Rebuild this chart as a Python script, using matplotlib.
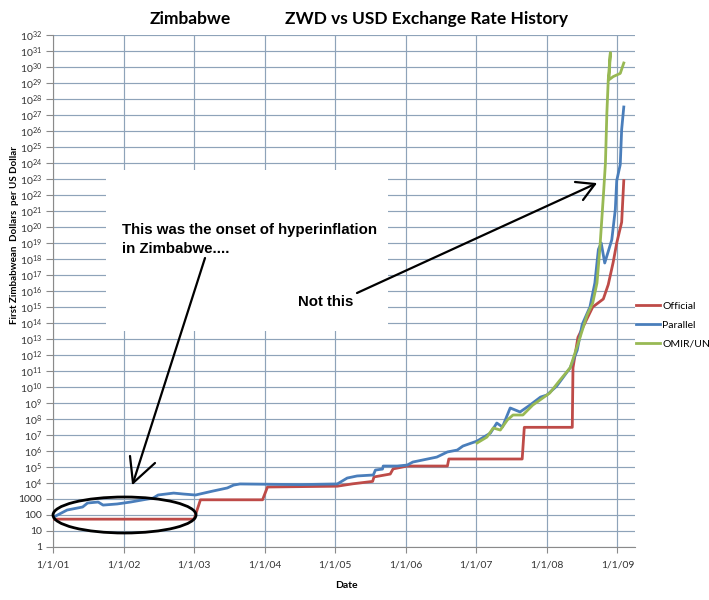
import matplotlib
matplotlib.use('Agg')
import matplotlib.pyplot as plt
from matplotlib.patches import Ellipse, Rectangle
from matplotlib.lines import Line2D

# values: x = decimal year, y = log10(ZWD per USD)
official_year = [2001.0, 2003.0, 2003.09, 2003.97, 2004.04, 2005.03, 2005.25, 2005.53,
                 2005.55, 2005.78, 2005.82, 2006.02, 2006.59, 2006.61, 2007.65, 2007.68,
                 2008.36, 2008.37, 2008.44, 2008.65, 2008.80, 2008.87, 2008.94, 2008.99,
                 2009.06, 2009.09]
official_log = [1.74, 1.74, 2.95, 2.95, 3.75, 3.8, 3.95, 4.1,
                4.38, 4.56, 4.88, 5.06, 5.06, 5.5, 5.5, 7.48,
                7.48, 11.2, 13.1, 15.0, 15.5, 16.4, 17.8, 19.0,
                20.3, 22.9]

parallel_year = [2001.0, 2001.2, 2001.42, 2001.49, 2001.64, 2001.71, 2001.91, 2002.1,
                 2002.42, 2002.49, 2002.71, 2002.85, 2003.02, 2003.27, 2003.47, 2003.56,
                 2003.65, 2004.5, 2005.03, 2005.17, 2005.31, 2005.54, 2005.57, 2005.67,
                 2005.68, 2005.88, 2006.02, 2006.1, 2006.44, 2006.59, 2006.73, 2006.81,
                 2007.01, 2007.2, 2007.29, 2007.37, 2007.48, 2007.62, 2007.76, 2007.91,
                 2008.0, 2008.14, 2008.33, 2008.43, 2008.5, 2008.61, 2008.68, 2008.73,
                 2008.77, 2008.82, 2008.92, 2008.97, 2008.99, 2009.04, 2009.06, 2009.09]
parallel_log = [1.85, 2.31, 2.5, 2.75, 2.81, 2.62, 2.69, 2.81,
                3.06, 3.25, 3.37, 3.31, 3.25, 3.5, 3.69, 3.87,
                3.94, 3.9, 3.94, 4.31, 4.44, 4.5, 4.81, 4.87,
                5.06, 5.06, 5.12, 5.31, 5.62, 5.94, 6.06, 6.31,
                6.62, 7.12, 7.75, 7.5, 8.69, 8.44, 8.87, 9.37,
                9.5, 10.06, 11.2, 12.3, 13.9, 15.0, 16.5, 18.6,
                19.0, 17.75, 19.2, 21.1, 22.9, 23.9, 26.1, 27.5]

omir_year = [2007.01, 2007.15, 2007.24, 2007.34, 2007.44, 2007.52, 2007.66, 2007.8,
             2008.04, 2008.18, 2008.33, 2008.47, 2008.57, 2008.65, 2008.71, 2008.75,
             2008.8, 2008.83, 2008.85, 2008.87, 2008.9, 2008.88, 2008.94, 2009.04, 2009.09]
omir_log = [6.5, 6.87, 7.44, 7.31, 7.94, 8.25, 8.25, 8.87,
            9.62, 10.4, 11.2, 13.1, 14.5, 15.25, 16.5, 18.6,
            21.9, 24.0, 27.1, 29.2, 30.9, 29.2, 29.4, 29.6, 30.25]

year_ticks = [2001, 2002, 2003, 2004, 2005, 2006, 2007, 2008, 2009]
year_labels = ['1/1/01', '1/1/02', '1/1/03', '1/1/04', '1/1/05',
               '1/1/06', '1/1/07', '1/1/08', '1/1/09']

plt.rcParams['font.family'] = ['Lato', 'DejaVu Sans']
plt.rcParams['mathtext.default'] = 'regular'

W, H = 709, 600


def fx(px):
    return px / W


def fy(py):
    return 1 - py / H


fig = plt.figure(figsize=(W / 100, H / 100), dpi=100)
ax = fig.add_axes([fx(53), fy(547), (635 - 53) / W, (547 - 35) / H])

ax.plot(official_year, [10.0 ** v for v in official_log], color='#be4b48', lw=2, label='Official', zorder=3)
ax.plot(parallel_year, [10.0 ** v for v in parallel_log], color='#4a7ebb', lw=2, label='Parallel', zorder=3)
ax.plot(omir_year, [10.0 ** v for v in omir_log], color='#98b954', lw=2, label='OMIR/UN', zorder=4)

ax.set_yscale('log')
ax.set_ylim(1, 1e32)
ax.set_xlim(2001, 2009.249)
ax.set_yticks([10.0 ** k for k in range(33)])
ax.set_yticklabels(['1', '10', '100', '1000'] + ['$10^{%d}$' % k for k in range(4, 33)])
ax.minorticks_off()
ax.set_xticks(year_ticks)
ax.set_xticklabels(year_labels)

ax.set_axisbelow(True)
ax.grid(True, color='#8ea3b9', lw=0.85)
for s in ['top', 'right']:
    ax.spines[s].set_visible(False)
ax.spines['left'].set_color('#8a8a8a')
ax.spines['bottom'].set_color('#8a8a8a')
ax.tick_params(axis='y', length=5, color='#8a8a8a', labelsize=7.5, labelcolor='#333333', pad=3)
ax.tick_params(axis='x', length=4, color='#8a8a8a', labelsize=7.5, labelcolor='#333333', pad=6)

# white box pasted over the grid
ax.add_patch(Rectangle((fx(106), fy(331)), fx(388) - fx(106), fy(170) - fy(331),
                       transform=fig.transFigure, facecolor='white', edgecolor='none', zorder=1))

ax.legend(loc='center left', bbox_to_anchor=(fx(636), fy(325)), bbox_transform=fig.transFigure,
          frameon=False, fontsize=7.5, handlelength=2.3, handletextpad=0.2,
          labelspacing=0.9, borderaxespad=0, borderpad=0)

fig.text(fx(190), fy(19), 'Zimbabwe', ha='center', va='center', fontsize=12.5, fontweight='bold')
fig.text(fx(427), fy(19), 'ZWD vs USD Exchange Rate History', ha='center', va='center',
         fontsize=12.5, fontweight='bold')
fig.text(fx(15), fy(235), 'First Zimbabwean  Dollars  per US Dollar', rotation=90,
         ha='center', va='center', fontsize=7, fontweight='bold')
fig.text(fx(346), fy(585), 'Date', ha='center', va='center', fontsize=7.5, fontweight='bold')

# hand-drawn annotations
note = dict(fontsize=10.8, fontweight='bold', family='Liberation Sans', va='baseline')
fig.text(fx(122), fy(234), 'This was the onset of hyperinflation', **note)
fig.text(fx(122), fy(253), 'in Zimbabwe....', **note)
fig.text(fx(298), fy(306), 'Not this', **note)

strokes = [
    [(205, 258), (133, 483)], [(133, 483), (130, 456)], [(133, 483), (155, 463)],
    [(357, 293), (595, 184)], [(595, 184), (575, 182)], [(595, 184), (583, 200)],
]
for (x0, y0), (x1, y1) in strokes:
    fig.add_artist(Line2D([fx(x0), fx(x1)], [fy(y0), fy(y1)], transform=fig.transFigure,
                          color='black', lw=1.6, solid_capstyle='round'))

fig.add_artist(Ellipse((fx(124.5), fy(515)), 143 / W, 36 / H, transform=fig.transFigure,
                       facecolor='none', edgecolor='black', lw=2, zorder=5))

fig.savefig('out.png', dpi=100)
